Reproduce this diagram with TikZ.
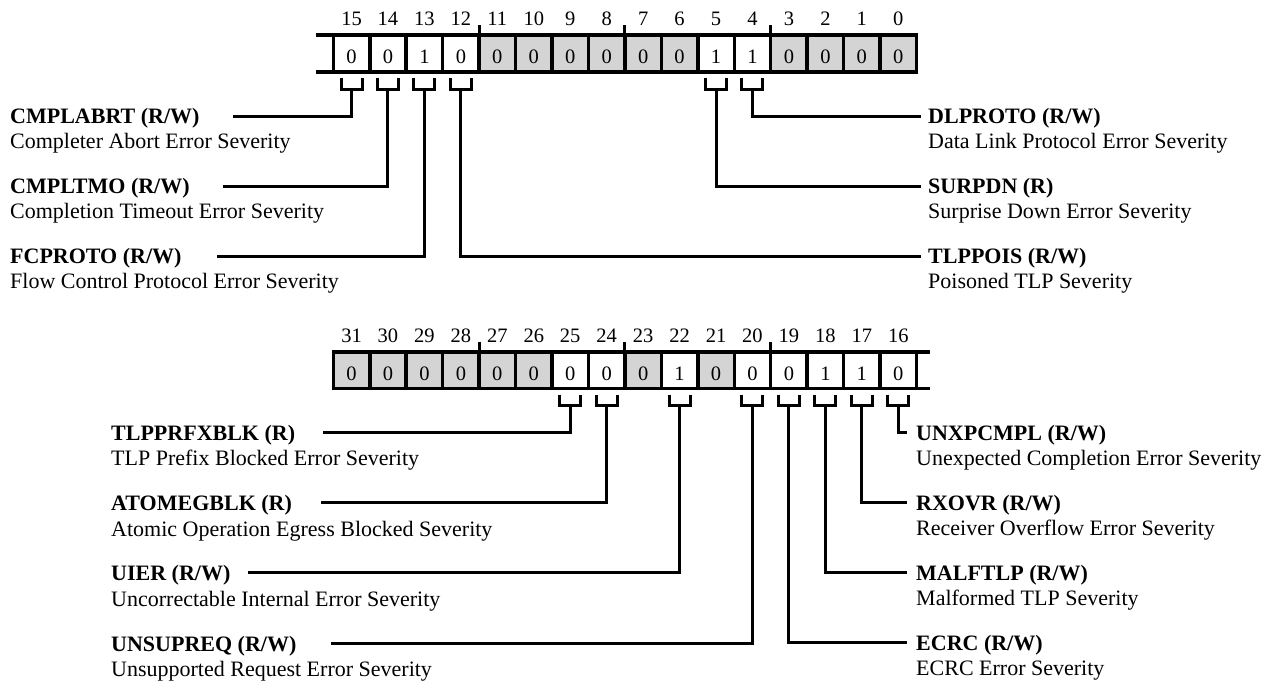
\documentclass[tikz,border=0pt]{standalone}
\usepackage{fontspec}
\setmainfont{Liberation Serif}
\definecolor{cellgrey}{HTML}{D4D4D4}
\begin{document}
\begin{tikzpicture}[x=1pt,y=-1pt,
  reg/.style={line width=3.5pt, line cap=rect},
  conn/.style={line width=3pt},
  brk/.style={line width=3pt},
  bitnum/.style={font=\fontsize{20.5}{24}\selectfont, anchor=base, inner sep=0pt},
  val/.style={font=\fontsize{20.5}{24}\selectfont, anchor=base, inner sep=0pt},
  ttl/.style={font=\fontsize{22}{24}\selectfont\bfseries, anchor=base west, inner sep=0pt},
  dsc/.style={font=\fontsize{22}{24}\selectfont, anchor=base west, inner sep=0pt}]
\useasboundingbox (0,0) rectangle (1280,681);

% ---------- top register (bits 15..0) ----------
\foreach \k/\v/\g in {0/0/0,1/0/0,2/1/0,3/0/0,4/0/1,5/0/1,6/0/1,7/0/1,8/0/1,9/0/1,10/1/0,11/1/0,12/0/1,13/0/1,14/0/1,15/0/1}{
  \pgfmathsetmacro\xl{333.3+36.45*\k}
  \pgfmathsetmacro\xc{\xl+18.225}
  \pgfmathtruncatemacro\bit{15-\k}
  \ifnum\g=1 \fill[cellgrey] (\xl,35) rectangle ++(36.45,37); \fi
  \node[val] (t\bit) at (\xc,63.3) {\v};
  \node[bitnum] (n\bit) at (\xc,25) {\bit};
}
\draw[reg] (318,35) -- (916.5,35);
\draw[reg] (318,72) -- (916.5,72);
\foreach \k in {0,...,16}{
  \pgfmathsetmacro\xl{333.3+36.45*\k}
  \draw[reg] (\xl,35) -- (\xl,72);
}
\foreach \k in {4,8,12}{
  \pgfmathsetmacro\xl{333.3+36.45*\k}
  \draw[brk] (\xl,25) -- (\xl,35);
}

% ---------- bottom register (bits 31..16) ----------
\foreach \k/\v/\g in {0/0/1,1/0/1,2/0/1,3/0/1,4/0/1,5/0/1,6/0/0,7/0/0,8/0/1,9/1/0,10/0/1,11/0/0,12/0/0,13/1/0,14/1/0,15/0/0}{
  \pgfmathsetmacro\xl{333.3+36.45*\k}
  \pgfmathsetmacro\xc{\xl+18.225}
  \pgfmathtruncatemacro\bit{31-\k}
  \ifnum\g=1 \fill[cellgrey] (\xl,352) rectangle ++(36.45,36.5); \fi
  \node[val] (t\bit) at (\xc,380.3) {\v};
  \node[bitnum] (n\bit) at (\xc,342) {\bit};
}
\draw[reg] (333.3,352) -- (928,352);
\draw[reg] (333.3,388.5) -- (928,388.5);
\foreach \k in {0,...,16}{
  \pgfmathsetmacro\xl{333.3+36.45*\k}
  \draw[reg] (\xl,352) -- (\xl,388.5);
}
\foreach \k in {4,8,12}{
  \pgfmathsetmacro\xl{333.3+36.45*\k}
  \draw[brk] (\xl,342) -- (\xl,352);
}

% ---------- brackets ----------
\foreach \b in {15,14,13,12,5,4}{
  \pgfmathsetmacro\xc{333.3+36.45*(15-\b)+18.225}
  \draw[brk] (\xc-10.5,78) -- (\xc-10.5,89.5) -- (\xc+10.5,89.5) -- (\xc+10.5,78);
  \coordinate (s\b) at (\xc,89.5);
}
\foreach \b in {25,24,22,20,19,18,17,16}{
  \pgfmathsetmacro\xc{333.3+36.45*(31-\b)+18.225}
  \draw[brk] (\xc-10.5,394.5) -- (\xc-10.5,405.5) -- (\xc+10.5,405.5) -- (\xc+10.5,394.5);
  \coordinate (s\b) at (\xc,405.5);
}

% ---------- labels: top ----------
\node[ttl] (L15) at (10,123.5) {CMPLABRT (R/W)};
\node[dsc] (D15) at (10,148) {Completer Abort Error Severity};
\node[ttl] (L14) at (10,193.5) {CMPLTMO (R/W)};
\node[dsc] (D14) at (10,218) {Completion Timeout Error Severity};
\node[ttl] (L13) at (10,263.5) {FCPROTO (R/W)};
\node[dsc] (D13) at (10,288) {Flow Control Protocol Error Severity};

\node[ttl] (L4) at (928,123.5) {DLPROTO (R/W)};
\node[dsc] (D4) at (928,148) {Data Link Protocol Error Severity};
\node[ttl] (L5) at (928,193.5) {SURPDN (R)};
\node[dsc] (D5) at (928,218) {Surprise Down Error Severity};
\node[ttl] (L12) at (928,263.5) {TLPPOIS (R/W)};
\node[dsc] (D12) at (928,288) {Poisoned TLP Severity};

% ---------- labels: bottom ----------
\node[ttl] (L25) at (111,440) {TLPPRFXBLK (R)};
\node[dsc] (D25) at (111,465.5) {TLP Prefix Blocked Error Severity};
\node[ttl] (L24) at (111,510.5) {ATOMEGBLK (R)};
\node[dsc] (D24) at (111,536) {Atomic Operation Egress Blocked Severity};
\node[ttl] (L22) at (111,580.5) {UIER (R/W)};
\node[dsc] (D22) at (111,606) {Uncorrectable Internal Error Severity};
\node[ttl] (L20) at (111,651) {UNSUPREQ (R/W)};
\node[dsc] (D20) at (111,676) {Unsupported Request Error Severity};

\node[ttl] (L16) at (916,440) {UNXPCMPL (R/W)};
\node[dsc] (D16) at (916,465.5) {Unexpected Completion Error Severity};
\node[ttl] (L17) at (916,510) {RXOVR (R/W)};
\node[dsc] (D17) at (916,535.5) {Receiver Overflow Error Severity};
\node[ttl] (L18) at (916,580) {MALFTLP (R/W)};
\node[dsc] (D18) at (916,605.5) {Malformed TLP Severity};
\node[ttl] (L19) at (916,650) {ECRC (R/W)};
\node[dsc] (D19) at (916,675.5) {ECRC Error Severity};

% ---------- connectors ----------
\coordinate (e15) at (233,116);
\coordinate (e14) at (223,186);
\coordinate (e13) at (217,256);
\coordinate (e12) at (921,256);
\coordinate (e5) at (921,186);
\coordinate (e4) at (921,116);
\coordinate (e25) at (323,432);
\coordinate (e24) at (321,502.5);
\coordinate (e22) at (248,572.5);
\coordinate (e20) at (331,643);
\coordinate (e19) at (907,642);
\coordinate (e18) at (907,572);
\coordinate (e17) at (907,502);
\coordinate (e16) at (907,432);
\foreach \b in {15,14,13,12,5,4,25,24,22,20,19,18,17,16}{
  \draw[conn] (s\b) |- (e\b);
}
\end{tikzpicture}
\end{document}
